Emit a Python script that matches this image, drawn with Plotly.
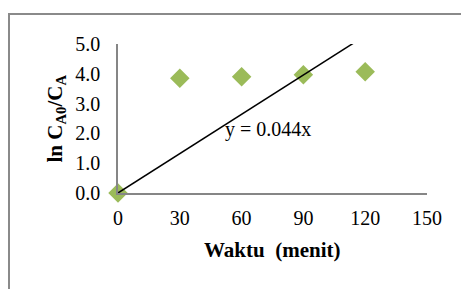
import plotly.graph_objects as go

time_min = [0, 30, 60, 90, 120]
ln_ratio = [0.0, 3.85, 3.90, 3.97, 4.07]
slope = 0.044
trend_x = [0, 150]
trend_y = [slope * v for v in trend_x]
x_ticks = [0, 30, 60, 90, 120, 150]
y_ticks = [0, 1, 2, 3, 4, 5]

FONT = "Liberation Serif, Times New Roman, serif"
AX = "#868686"

# page body adds an 8px offset, so the figure is 8px smaller than the window
W, H = 461, 281
L, T, R, B = 110, 36, 42, 96
PW, PH = W - L - R, H - T - B

fig = go.Figure()
fig.add_trace(go.Scatter(
    x=time_min, y=ln_ratio, mode="markers",
    marker=dict(symbol="diamond", size=15, color="#9BBB59"),
    cliponaxis=False, showlegend=False))
fig.add_trace(go.Scatter(
    x=trend_x, y=trend_y, mode="lines",
    line=dict(color="black", width=1.5), showlegend=False))

fig.add_annotation(x=73, y=2.13, xref="x", yref="y", text="y = 0.044x",
                   xanchor="center", yanchor="middle",
                   showarrow=False, font=dict(family=FONT, size=20, color="black"))
fig.add_annotation(x=-(L - 47) / PW, y=0.5, xref="paper", yref="paper",
                   xanchor="center", yanchor="middle",
                   text="<b>ln C<sub>A0</sub>/C<sub>A</sub></b>", textangle=-90,
                   showarrow=False, font=dict(family=FONT, size=21, color="black"))
fig.add_annotation(x=0.5, y=-(250 - 8 - (T + PH)) / PH, xref="paper", yref="paper",
                   xanchor="center", yanchor="middle",
                   text="<b>Waktu\u00a0 (menit)</b>",
                   showarrow=False, font=dict(family=FONT, size=21, color="black"))

fig.add_shape(type="rect", xref="paper", yref="paper",
              x0=-(L - 1) / PW, y0=-3, x1=3, y1=1 + (T - 6) / PH,
              line=dict(color="#8a8a8a", width=2), layer="below")

fig.update_layout(
    width=W, height=H,
    margin=dict(l=L, r=R, t=T, b=B),
    paper_bgcolor="white", plot_bgcolor="white",
    font=dict(family=FONT, size=20, color="black"),
    xaxis=dict(range=[0, 150], tickvals=x_ticks, showgrid=False, zeroline=False,
               showline=True, linecolor=AX, linewidth=1.5, ticks="",
               ticklabelstandoff=6, tickfont=dict(family=FONT, size=20)),
    yaxis=dict(range=[0, 5], tickvals=y_ticks, tickformat=".1f", showgrid=False,
               zeroline=False, showline=True, linecolor=AX, linewidth=1.5, ticks="",
               ticklabelstandoff=12, tickfont=dict(family=FONT, size=20)),
)

fig.write_html("out.html")
